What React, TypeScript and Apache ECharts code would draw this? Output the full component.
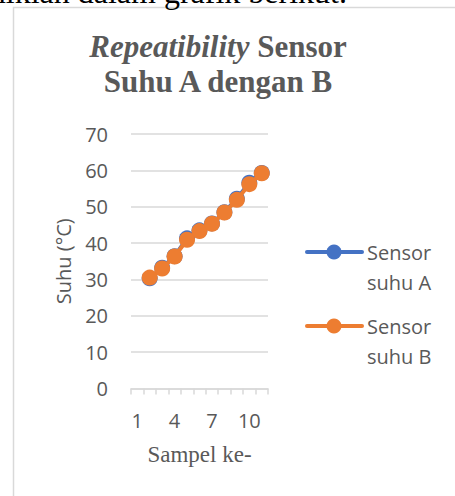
import React, { useEffect, useRef } from 'react';
import * as echarts from 'echarts';

const categories = ['1', '2', '3', '4', '5', '6', '7', '8', '9', '10', '11'];
const sensorA = [null, 30.3, 33.2, 36.4, 41.3, 43.5, 45.4, 48.5, 52.2, 56.6, 59.3];
const sensorB = [null, 30.5, 33.0, 36.3, 40.9, 43.3, 45.3, 48.4, 51.9, 56.2, 59.2];
const seriesNames = ['Sensor suhu A', 'Sensor suhu B'];
const legendLabels = ['Sensor\nsuhu A', 'Sensor\nsuhu B'];
const colors = ['#4472C4', '#ED7D31'];
const yMin = 0;
const yMax = 70;
const yInterval = 10;
const titleItalic = 'Repeatibility';
const titleRest1 = 'Sensor';
const titleLine2 = 'Suhu A dengan B';
const xName = 'Sampel ke-';
const yName = 'Suhu (°C)';
const pageText = 'demikian dalam grafik berikut.';

const SERIF = "'Liberation Serif', 'Times New Roman', serif";
const SANS = "'Open Sans', 'Noto Sans', sans-serif";
const GREY = '#595959';

export default function App() {
  const ref = useRef<HTMLDivElement>(null);
  useEffect(() => {
    if (!ref.current) return;
    const chart = echarts.init(ref.current, null, { renderer: 'svg' });
    const legendGraphics: any[] = [];
    const legendY = [252, 326];
    legendLabels.forEach((lab, i) => {
      legendGraphics.push({
        type: 'line',
        shape: { x1: 307, y1: legendY[i], x2: 362, y2: legendY[i] },
        style: { stroke: colors[i], lineWidth: 4, lineCap: 'round' },
        z: 10,
      });
      legendGraphics.push({
        type: 'circle',
        shape: { cx: 334, cy: legendY[i], r: 7.5 },
        style: { fill: colors[i] },
        z: 11,
      });
      legendGraphics.push({
        type: 'text',
        x: 367,
        y: legendY[i] - 15,
        style: {
          text: lab,
          fill: GREY,
          font: `20px ${SANS}`,
          lineHeight: 30,
          align: 'left',
          verticalAlign: 'top',
        },
        z: 10,
      });
    });
    chart.setOption({
      animation: false,
      backgroundColor: '#ffffff',
      graphic: [
        {
          type: 'text',
          x: 347,
          y: -8,
          style: {
            text: pageText,
            fill: '#000000',
            font: `32px ${SERIF}`,
            align: 'right',
            verticalAlign: 'middle',
          },
          z: 1,
        },
        {
          type: 'rect',
          shape: { x: 13.5, y: 7.5, width: 480, height: 520 },
          style: { fill: '#ffffff', stroke: '#d9d9d9', lineWidth: 1.5 },
          z: 0,
        },
        {
          type: 'text',
          x: 218,
          y: 29,
          style: {
            text: `{i|${titleItalic}}{b| ${titleRest1}}\n{b|${titleLine2}}`,
            align: 'center',
            verticalAlign: 'top',
            rich: {
              i: { font: `italic bold 31px ${SERIF}`, fill: GREY, lineHeight: 35 },
              b: { font: `bold 31px ${SERIF}`, fill: GREY, lineHeight: 35 },
            },
          },
          z: 10,
        },
        ...legendGraphics,
      ],
      grid: { left: 131, right: 187, top: 134, bottom: 107.5, containLabel: false },
      xAxis: {
        type: 'category',
        data: categories,
        boundaryGap: true,
        name: xName,
        nameLocation: 'middle',
        nameGap: 54,
        nameTextStyle: { fontFamily: SERIF, fontSize: 23, color: GREY },
        axisLine: { show: true, lineStyle: { color: '#d9d9d9', width: 1.5 } },
        axisTick: { show: true, interval: 0, length: 6, lineStyle: { color: '#d9d9d9', width: 1.5 } },
        axisLabel: { interval: 2, fontFamily: SANS, fontSize: 20, color: GREY, margin: 22 },
        splitLine: { show: false },
      },
      yAxis: {
        type: 'value',
        min: yMin,
        max: yMax,
        interval: yInterval,
        name: yName,
        nameLocation: 'middle',
        nameRotate: 90,
        nameGap: 58,
        nameTextStyle: { fontFamily: SANS, fontSize: 20, color: GREY },
        axisLine: { show: false },
        axisTick: { show: false },
        axisLabel: { fontFamily: SANS, fontSize: 20, color: GREY, margin: 23 },
        splitLine: { show: true, lineStyle: { color: '#d9d9d9', width: 1.5 } },
      },
      series: [sensorA, sensorB].map((d, i) => ({
        name: seriesNames[i],
        type: 'line',
        data: d,
        symbol: 'circle',
        symbolSize: 16,
        showSymbol: true,
        showAllSymbol: true,
        connectNulls: false,
        lineStyle: { color: colors[i], width: 4 },
        itemStyle: { color: colors[i], borderWidth: 0 },
        z: 2 + i,
      })),
    });
    return () => chart.dispose();
  }, []);
  return (
    <div
      ref={ref}
      style={{ position: 'fixed', left: 0, top: 0, width: 455, height: 496 }}
    />
  );
}
